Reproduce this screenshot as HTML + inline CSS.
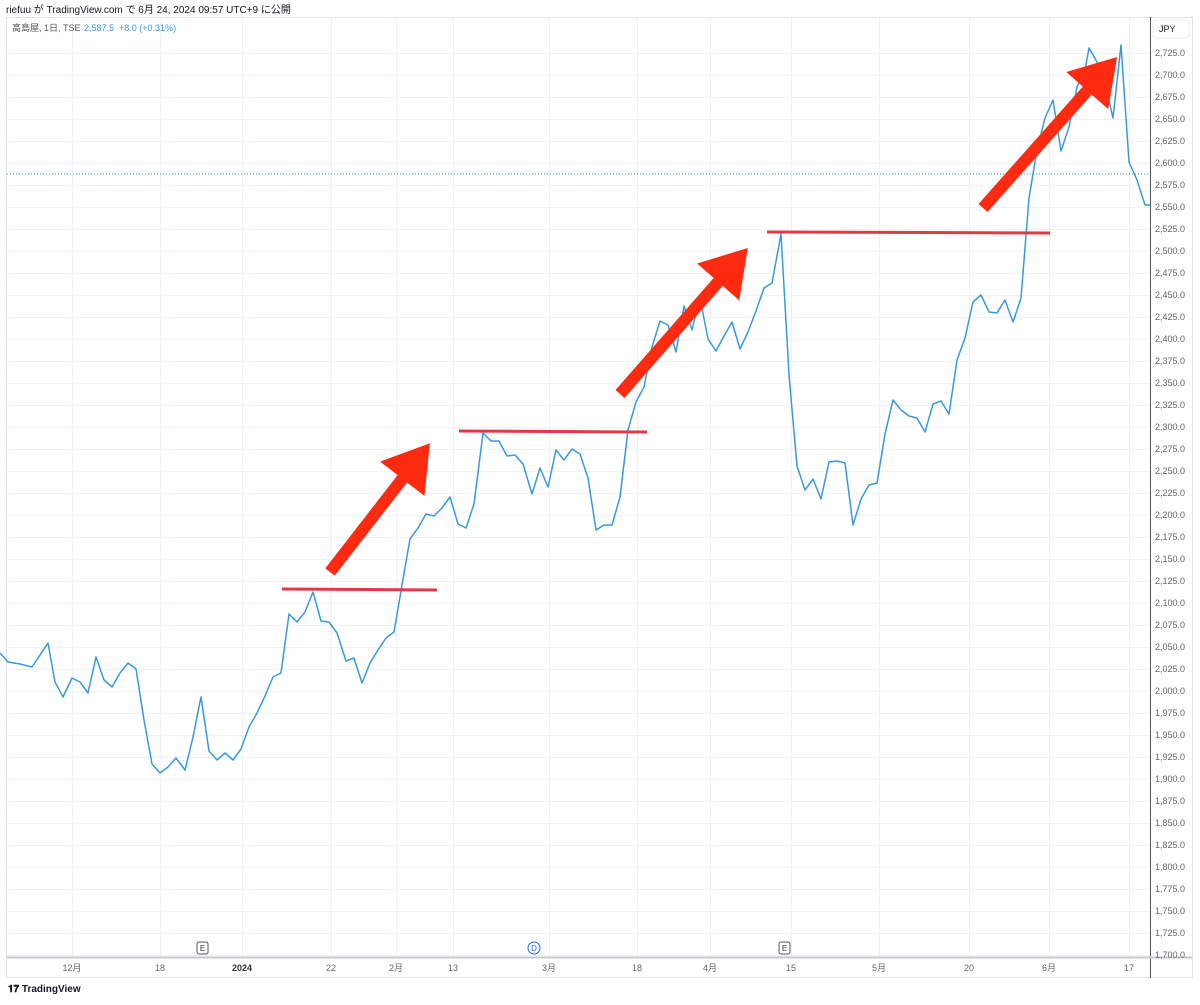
<!DOCTYPE html>
<html><head><meta charset="utf-8"><style>
body{margin:0;background:#fff;font-family:"Liberation Sans","Noto Sans CJK JP",sans-serif;}
svg text{font-family:"Liberation Sans","Noto Sans CJK JP",sans-serif;}
</style></head><body>
<svg width="1200" height="1000" xmlns="http://www.w3.org/2000/svg">
<text x="6" y="13" font-size="10" fill="#131722">riefuu が TradingView.com で 6月 24, 2024 09:57 UTC+9 に公開</text>
<rect x="6.5" y="17.5" width="1186" height="960" fill="none" stroke="#e0e3eb"/>
<g id="grid" stroke="#eef1f7" stroke-width="1"></g>
<line x1="7" y1="174" x2="1150" y2="174" stroke="#3a9ad9" stroke-dasharray="1,2" stroke-width="1"/>
<text x="12" y="31" font-size="9" fill="#555">高島屋, 1日, TSE</text>
<text x="84" y="31" font-size="9" fill="#3a9ad9">2,587.5 &#160;+8.0 (+0.31%)</text>
<line x1="1150.5" y1="17" x2="1150.5" y2="978" stroke="#50535e"/>
<line x1="7" y1="957.5" x2="1192" y2="957.5" stroke="#c5c8d0" stroke-width="2"/>
<rect x="1153" y="20" width="36" height="18" rx="3" fill="#fff" stroke="#eee"/>
<text x="1159" y="32" font-size="9" fill="#131722">JPY</text>
<g id="labels" font-size="9" fill="#666"></g>
<g font-size="9" fill="#666" text-anchor="middle">
<text x="72" y="971">12月</text><text x="160" y="971">18</text><text x="242" y="971" font-weight="bold" fill="#333">2024</text><text x="331" y="971">22</text><text x="396" y="971">2月</text><text x="453" y="971">13</text><text x="549" y="971">3月</text><text x="637" y="971">18</text><text x="710" y="971">4月</text><text x="791" y="971">15</text><text x="879" y="971">5月</text><text x="969" y="971">20</text><text x="1049" y="971">6月</text><text x="1129" y="971">17</text>
</g>
<g font-size="8" text-anchor="middle">
<rect x="197" y="942" width="11" height="12" rx="2" fill="#fff" stroke="#555"/><text x="202.5" y="951" fill="#333">E</text>
<circle cx="534" cy="948" r="6" fill="#fff" stroke="#2962ff"/><text x="534" y="951" fill="#2962ff">D</text>
<rect x="779" y="942" width="11" height="12" rx="2" fill="#fff" stroke="#555"/><text x="784.5" y="951" fill="#333">E</text>
</g>
<polyline fill="none" stroke="#3a9ad9" stroke-width="1.5" stroke-linejoin="round" points="0,653 8,662 20,664 32,667 40,655 48,643 55,682 63,697 72,678 80,682 88,693 96,657 104,680 112,687 120,673 128,663 136,669 144,720 152,764 160,773 168,767 176,758 185,770 193,737 201,697 209,751 217,760 225,753 233,760 241,749 249,727 257,713 265,696 273,677 281,673 289,614 297,622 305,612 313,592 321,621 329,622 337,633 346,661 354,658 362,683 370,663 378,650 386,638 394,632 402,585 410,539 418,528 426,514 434,516 442,508 450,497 458,524 466,528 474,504 483,433 491,441 499,441 507,456 515,455 523,464 532,494 540,468 548,487 556,450 564,460 572,449 580,454 588,478 596,530 604,525 612,525 620,497 628,430 636,402 644,387 652,347 660,321 668,325 676,352 684,306 692,330 700,298 708,339 716,351 724,336 732,322 740,349 748,332 756,311 764,288 772,283 781,234 789,375 797,466 805,490 813,479 821,499 829,462 837,461 845,463 853,525 861,499 869,485 877,483 885,434 893,400 901,410 909,416 917,418 925,432 933,404 941,401 949,414 957,360 965,338 973,302 981,295 989,312 997,313 1005,300 1013,322 1021,298 1029,198 1037,150 1045,118 1053,100 1061,151 1069,127 1077,87 1085,70 1089,48 1097,62 1105,84 1113,118 1121,45 1129,162 1137,180 1145,205 1150,205"/>
<g stroke="#e03a48" stroke-width="3">
<line x1="282" y1="589" x2="437" y2="590"/>
<line x1="459" y1="431" x2="647" y2="432"/>
<line x1="767" y1="232" x2="1050" y2="233"/>
</g>
<g fill="#ff2a0f">
<polygon transform="translate(330,572) rotate(-52.2)" points="0,-6 118,-6 118,-28 163,0 118,28 118,6 0,6"/>
<polygon transform="translate(620,394) rotate(-48.8)" points="0,-6 149,-6 149,-28 194,0 149,28 149,6 0,6"/>
<polygon transform="translate(983,208) rotate(-48.4)" points="0,-6 157,-6 157,-28 202,0 157,28 157,6 0,6"/>
</g>
<text x="8" y="992" font-size="10" font-weight="bold" fill="#131722">𝟏𝟕 TradingView</text>
<script>
var g=document.getElementById('grid'),l=document.getElementById('labels'),ns='http://www.w3.org/2000/svg';
for(var i=0;i<=41;i++){var p=2725-25*i,y=53+i*22;
var ln=document.createElementNS(ns,'line');ln.setAttribute('x1',7);ln.setAttribute('x2',1150);ln.setAttribute('y1',y+.5);ln.setAttribute('y2',y+.5);g.appendChild(ln);
var t=document.createElementNS(ns,'text');t.setAttribute('x',1155);t.setAttribute('y',y+3);t.textContent=p.toLocaleString('en-US')+'.0';l.appendChild(t);}
[72,160,242,331,396,453,549,637,710,791,879,969,1049,1129].forEach(function(x){var ln=document.createElementNS(ns,'line');ln.setAttribute('x1',x+.5);ln.setAttribute('x2',x+.5);ln.setAttribute('y1',18);ln.setAttribute('y2',957);g.appendChild(ln);});
</script>
</svg>
</body></html>
